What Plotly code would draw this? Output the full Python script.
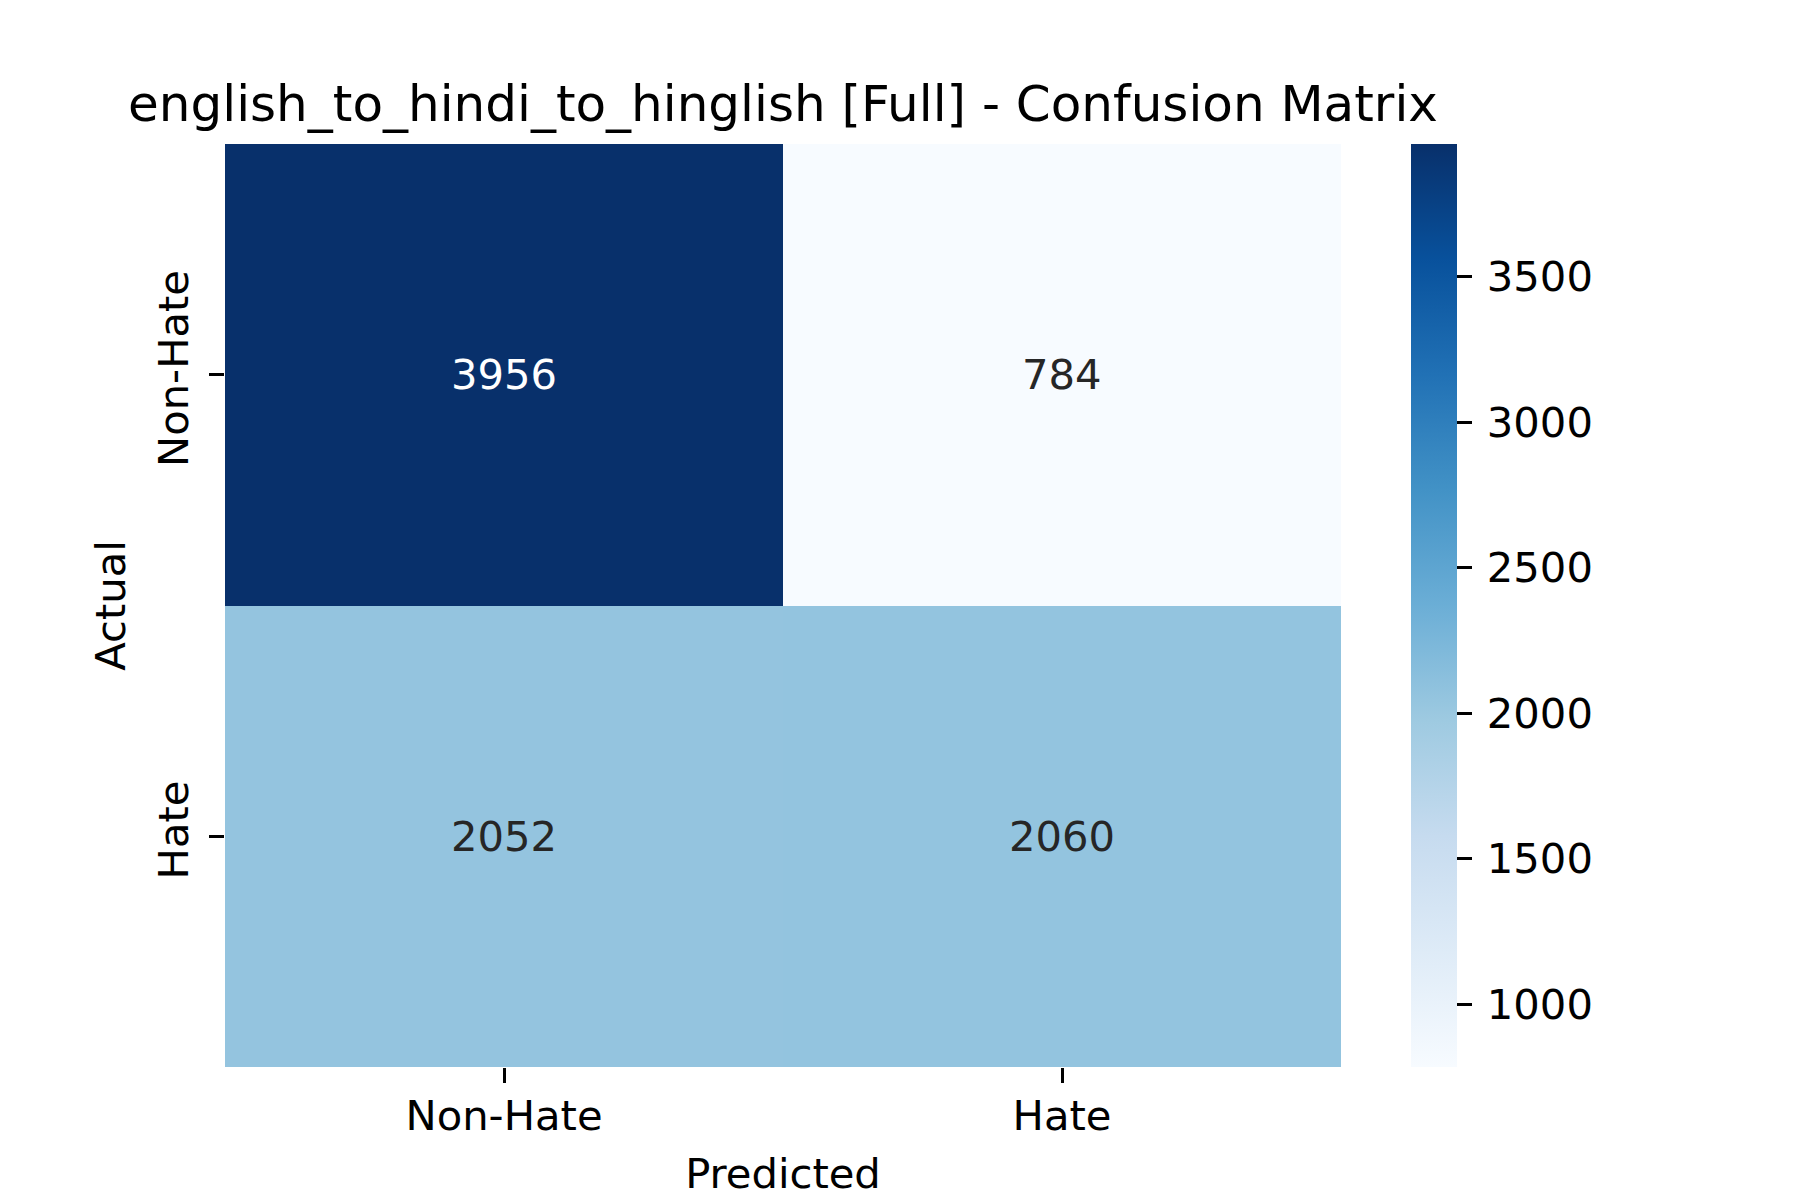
import plotly.graph_objects as go

categories_pred = ["Non-Hate", "Hate"]
categories_actual = ["Non-Hate", "Hate"]
values = [
    [3956, 784],
    [2052, 2060],
]
cbar_ticks = [1000, 1500, 2000, 2500, 3000, 3500]
title_text = "english_to_hindi_to_hinglish [Full] - Confusion Matrix"

blues = [
    [0.0, "#f7fbff"], [0.125, "#deebf7"], [0.25, "#c6dbef"], [0.375, "#9ecae1"],
    [0.5, "#6baed6"], [0.625, "#4292c6"], [0.75, "#2171b5"], [0.875, "#08519c"],
    [1.0, "#08306b"],
]

FONT = "DejaVu Sans"
TICK = 41.7
W, H = 1800, 1200
L, R, T, B = 217, 1800 - 1333, 136, 141
plot_w = W - L - R

zmin = min(min(r) for r in values)
zmax = max(max(r) for r in values)

spacer = '<span style="font-size:11px;color:rgba(255,255,255,0)">0</span>'
cbar_text = [spacer + str(v) for v in cbar_ticks]

fig = go.Figure()
fig.add_trace(go.Heatmap(
    z=values, x=categories_pred, y=categories_actual,
    colorscale=blues, zmin=zmin, zmax=zmax,
    xgap=0, ygap=0, hoverinfo="skip",
    colorbar=dict(
        thickness=46, thicknessmode="pixels",
        len=1, lenmode="fraction", y=0.5, yanchor="middle",
        x=(1186) / plot_w, xanchor="left", xpad=0, ypad=0,
        outlinewidth=0, tickmode="array", tickvals=cbar_ticks, ticktext=cbar_text,
        ticks="outside", ticklen=15, tickwidth=3.3, tickcolor="black",
        tickfont=dict(family=FONT, size=TICK, color="black"),
    ),
))

mid = (zmin + zmax) / 2
for i, a in enumerate(categories_actual):
    for j, p in enumerate(categories_pred):
        v = values[i][j]
        fig.add_annotation(
            x=p, y=a, text=str(v), showarrow=False,
            font=dict(family=FONT, size=TICK, color="white" if v > mid else "#262626"),
        )

fig.update_layout(
    width=W, height=H,
    margin=dict(l=L, r=R, t=T, b=B, pad=0),
    paper_bgcolor="white", plot_bgcolor="white",
    font=dict(family=FONT, color="black"),
    title=dict(
        text=title_text, x=0.5, xref="paper", xanchor="center",
        y=1, yref="paper", yanchor="bottom", pad=dict(b=23),
        font=dict(family=FONT, size=50, color="black"),
    ),
    xaxis=dict(
        title=dict(text="Predicted", font=dict(family=FONT, size=TICK), standoff=20),
        ticks="outside", ticklen=14.6, tickwidth=3.3, tickcolor="black",
        ticklabelstandoff=-3,
        tickfont=dict(family=FONT, size=TICK, color="black"),
        showline=False, showgrid=False, zeroline=False,
    ),
    yaxis=dict(
        title=dict(text="Actual", font=dict(family=FONT, size=TICK), standoff=10),
        autorange="reversed", tickangle=-90,
        ticks="outside", ticklen=14.6, tickwidth=3.3, tickcolor="black",
        ticklabelstandoff=5,
        tickfont=dict(family=FONT, size=TICK, color="black"),
        showline=False, showgrid=False, zeroline=False,
    ),
)

fig.write_html("out.html")
